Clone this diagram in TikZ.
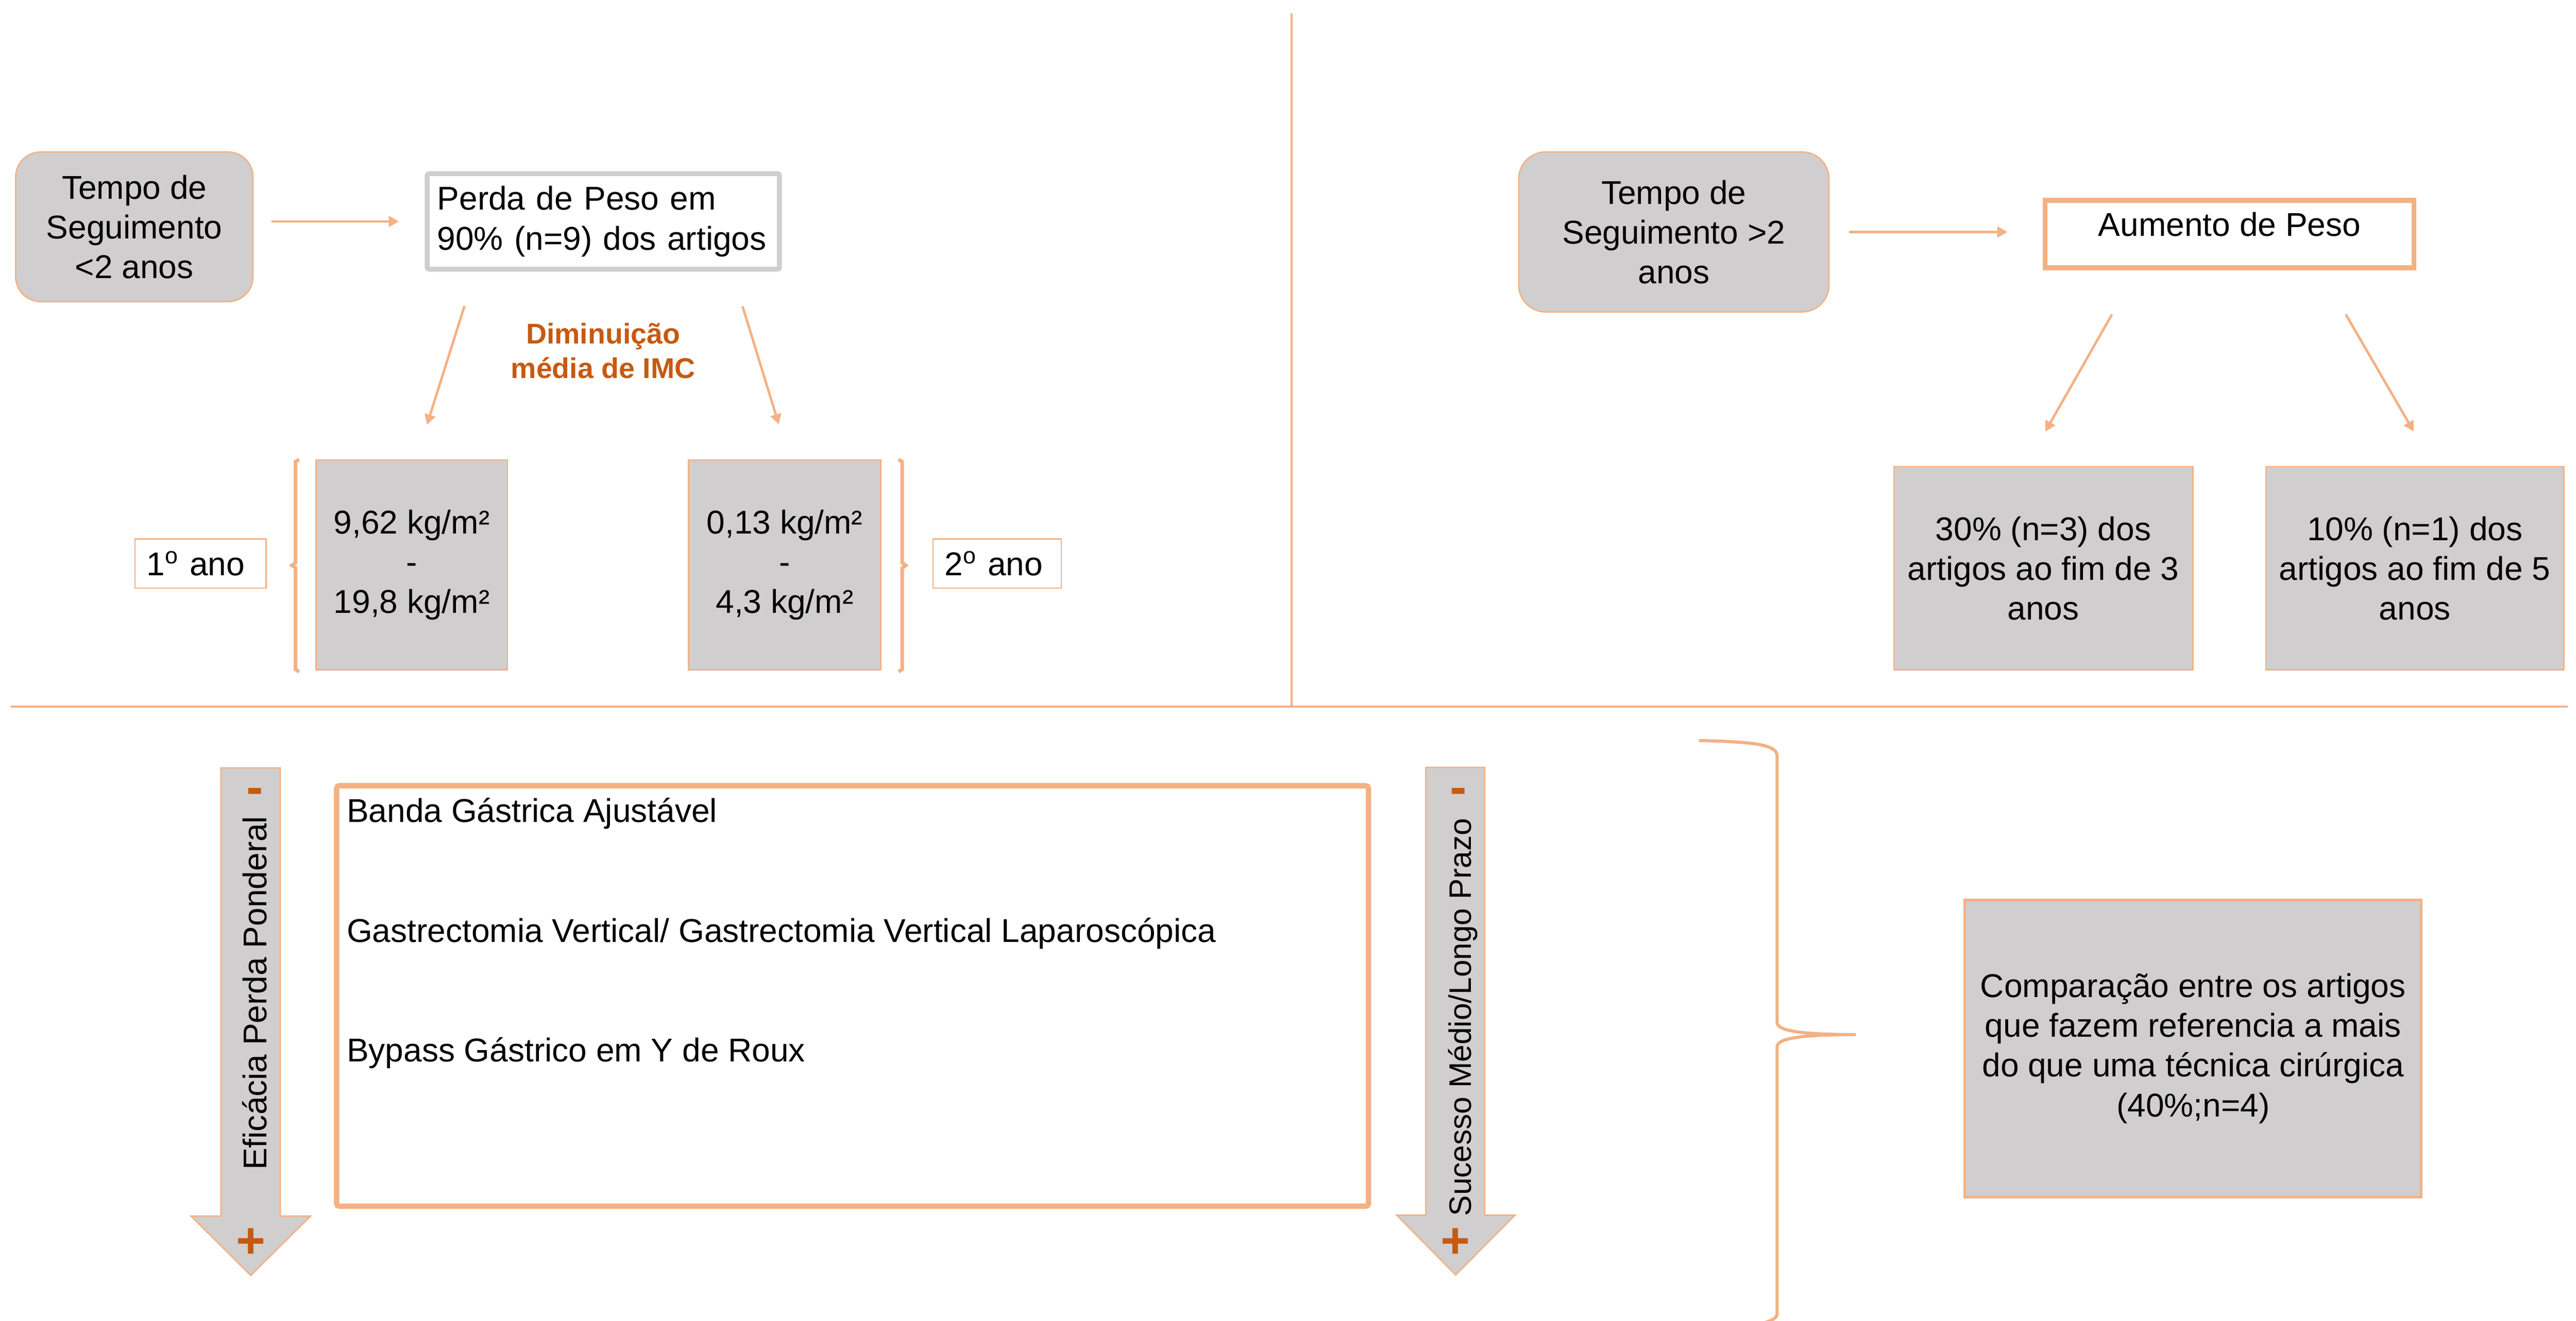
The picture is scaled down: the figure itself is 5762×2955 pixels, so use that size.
\documentclass[tikz,border=0pt]{standalone}
\usepackage{fontspec}
\setmainfont{Liberation Sans}
\usepackage{xcolor}
\usepackage{tikz}
\usetikzlibrary{arrows.meta}
\definecolor{laranja}{RGB}{244,177,131}
\definecolor{laranjaescuro}{RGB}{197,90,17}
\definecolor{cinza}{RGB}{208,206,206}
\newcommand{\textoA}{\fontsize{21}{25.3}\selectfont}

\begin{document}
\begin{tikzpicture}[x=0.1mm, y=-0.1mm,
	every node/.style={font=\textoA, inner sep=0pt},
	caixa/.style={draw=laranja, line width=0.3mm, fill=cinza, align=center},
	arred/.style={caixa, rounded corners=5.6mm},
	seta/.style={draw=laranja, line width=0.55mm, -{Triangle[length=2.3mm,width=2.4mm]}},
	divisor/.style={laranja, line width=0.5mm},
	sinal/.style={text=laranjaescuro, font=\fontsize{32}{36}\selectfont\bfseries},
	seta grossa/.style={draw=laranja, line width=0.3mm, fill=cinza, line join=miter}]
			\useasboundingbox (0,0) rectangle (5762,2955);
			
			% Divisores
			\draw[divisor] (24,1581) -- (5744,1581);
			\draw[divisor] (2889,30) -- (2889,1581);
			
			% Seguimento < 2 anos
			\node[arred, minimum width=53.1mm, minimum height=33.5mm] (tempoA) at (300.5,507.5) {Tempo de\\Seguimento\\<2 anos};
			\node[draw=cinza, line width=1.1mm, fill=white, rounded corners=0.5mm, minimum width=78.8mm, minimum height=21.4mm, text width=74.3mm, inner xsep=2.25mm, align=left] (perda) at (1349.5,495.5) {Perda de Peso em\\90\% (n=9) dos artigos};
			\node[text=laranjaescuro, font=\fontsize{18.2}{21.9}\selectfont\bfseries, align=center] (imc) at (1349,785) {Diminuição\\média de IMC};
			\node[caixa, minimum width=42.8mm, minimum height=47mm] (kgA) at (921,1264) {9,62 kg/m²\\-\\19,8 kg/m²};
			\node[caixa, minimum width=43mm, minimum height=47mm] (kgB) at (1755,1264) {0,13 kg/m²\\-\\4,3 kg/m²};
			\node[draw=laranja, line width=0.3mm, fill=white, minimum height=11mm, text width=24.1mm, inner xsep=2.6mm, align=left] (anoA) at (448.5,1261) {1\textsuperscript{o} ano};
			\node[draw=laranja, line width=0.3mm, fill=white, minimum height=11mm, text width=23.5mm, inner xsep=2.6mm, align=left] (anoB) at (2230.5,1261) {2\textsuperscript{o} ano};
			
			\draw[seta, shorten <=4mm, shorten >=5.75mm] (tempoA.east |- perda.west) -- (perda.west);
			\draw[seta] ([xshift=-31.05mm,yshift=-7.65mm]perda.south) -- ([xshift=3.4mm,yshift=7.7mm]kgA.north);
			\draw[seta] ([xshift=31.15mm,yshift=-7.75mm]perda.south) -- ([xshift=-1.3mm,yshift=7.8mm]kgB.north);
			
			% Chavetas dos anos
			\draw[laranja, line width=0.8mm] (669,1028) -- (661,1033) -- (661,1259) -- (653,1265) -- (661,1271) -- (661,1498) -- (669,1503);
			\draw[laranja, line width=0.8mm] (2010,1028) -- (2018,1033) -- (2018,1259) -- (2026,1265) -- (2018,1271) -- (2018,1498) -- (2010,1503);
			
			% Seguimento > 2 anos
			\node[arred, rounded corners=6mm, minimum width=69.4mm, minimum height=35.8mm] (tempoB) at (3744,519) {Tempo de\\Seguimento >2\\anos};
			\node[draw=laranja, line width=1.1mm, fill=white, minimum width=82.5mm, minimum height=15.1mm, text height=5.4mm, text depth=4.6mm] (aumento) at (4987,524) {Aumento de Peso};
			\node[caixa, minimum width=66.9mm, minimum height=45.5mm] (trinta) at (4570.5,1271.5) {30\% (n=3) dos\\artigos ao fim de 3\\anos};
			\node[caixa, minimum width=66.7mm, minimum height=45.5mm] (dez) at (5401.5,1271.5) {10\% (n=1) dos\\artigos ao fim de 5\\anos};
			
			\draw[seta, shorten <=4.3mm, shorten >=7.85mm] (tempoB.east) -- (tempoB.east -| aumento.west);
			\draw[seta] ([xshift=-26.3mm,yshift=-9.85mm]aumento.south) -- ([xshift=0.45mm,yshift=7.7mm]trinta.north);
			\draw[seta] ([xshift=26mm,yshift=-9.85mm]aumento.south) -- ([xshift=-0.25mm,yshift=7.7mm]dez.north);
			
			% Seta Eficacia
			\draw[seta grossa] (494,1718) -- (627,1718) -- (627,2721) -- (695,2721) -- (561,2854) -- (427,2721) -- (494,2721) -- cycle;
			\node[rotate=90] (eficacia) at (569,2222) {Eficácia Perda Ponderal};
			\node[sinal] (menosA) at (570,1781) {-};
			\node[sinal] (maisA) at (561,2782) {+};
			
			% Tecnicas
			\node[draw=laranja, line width=1.2mm, rounded corners=0.6mm, minimum width=230.8mm, minimum height=94.1mm] (tecnicas) at (1907,2228.5) {};
			\node[anchor=base west] (banda) at (775,1840) {Banda Gástrica Ajustável};
			\node[anchor=base west] (sleeve) at (775,2108) {Gastrectomia Vertical/ Gastrectomia Vertical Laparoscópica};
			\node[anchor=base west] (bypass) at (775,2376) {Bypass Gástrico em Y de Roux};
			
			% Seta Sucesso
			\draw[seta grossa] (3189,1717) -- (3321,1717) -- (3321,2719) -- (3389,2719) -- (3256,2853) -- (3124,2719) -- (3189,2719) -- cycle;
			\node[rotate=90, font=\fontsize{19.8}{24}\selectfont] (sucesso) at (3272,2276) {Sucesso Médio/Longo Prazo};
			\node[sinal] (menosB) at (3262,1781) {-};
			\node[sinal] (maisB) at (3256,2782) {+};
			
			% Chaveta e comparacao
			\draw[laranja, line width=0.7mm] (3800,1657) .. controls (3935,1660) and (3975,1668) .. (3975,1692) -- (3975,2288) .. controls (3975,2306) and (4025,2315) .. (4151,2315) .. controls (4025,2315) and (3975,2324) .. (3975,2342) -- (3975,2940) .. controls (3975,2950) and (3960,2956) .. (3945,2960);
			\node[caixa, line width=0.6mm, minimum width=102.1mm, minimum height=66.5mm] (comparacao) at (4905.5,2346) {Comparação entre os artigos\\que fazem referencia a mais\\do que uma técnica cirúrgica\\(40\%;n=4)};
		\end{tikzpicture}
\end{document}
